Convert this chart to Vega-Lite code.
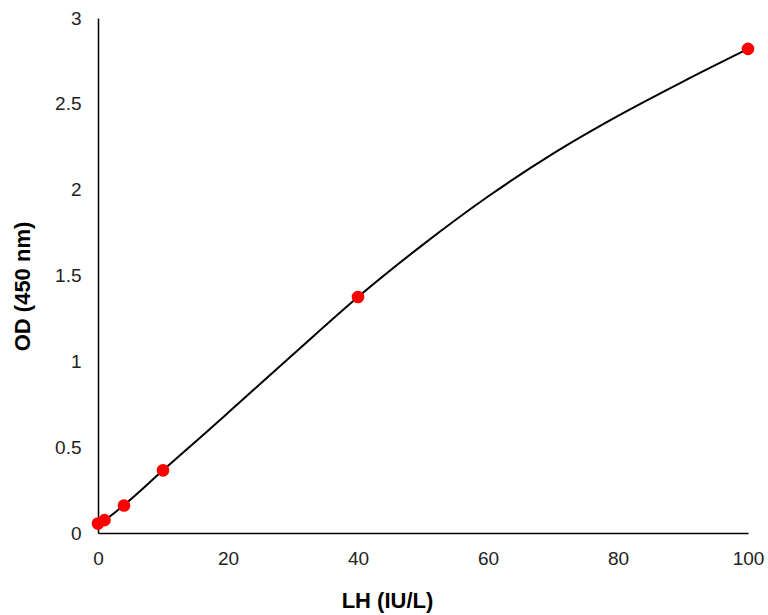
{
  "$schema": "https://vega.github.io/schema/vega-lite/v6.json",
  "width": 650,
  "height": 515,
  "autosize": {"type": "none"},
  "padding": {"left": 98, "top": 18, "right": 20, "bottom": 82},
  "background": "white",
  "config": {"view": {"stroke": null}, "font": "Liberation Sans"},
  "datasets": {
    "points": [
      {"lh": 0, "od": 0.055},
      {"lh": 1, "od": 0.075},
      {"lh": 4, "od": 0.16},
      {"lh": 10, "od": 0.365},
      {"lh": 40, "od": 1.375},
      {"lh": 100, "od": 2.82}
    ],
    "curve": [
      {"lh": 0, "od": 0.055},
      {"lh": 1, "od": 0.075},
      {"lh": 4, "od": 0.163},
      {"lh": 10, "od": 0.365},
      {"lh": 16, "od": 0.565},
      {"lh": 20, "od": 0.70},
      {"lh": 30, "od": 1.04},
      {"lh": 40, "od": 1.375},
      {"lh": 50, "od": 1.68},
      {"lh": 60, "od": 1.96},
      {"lh": 70, "od": 2.21},
      {"lh": 80, "od": 2.43},
      {"lh": 90, "od": 2.63},
      {"lh": 100, "od": 2.82}
    ]
  },
  "layer": [
    {
      "data": {"name": "curve"},
      "mark": {"type": "line", "color": "#000000", "strokeWidth": 2, "interpolate": "monotone"},
      "encoding": {
        "x": {"field": "lh", "type": "quantitative"},
        "y": {"field": "od", "type": "quantitative"}
      }
    },
    {
      "data": {"name": "points"},
      "mark": {"type": "circle", "color": "#ff0000", "opacity": 1, "size": 160},
      "encoding": {
        "x": {
          "field": "lh", "type": "quantitative",
          "scale": {"domain": [0, 100], "nice": false, "zero": false},
          "axis": {
            "title": "LH (IU/L)", "values": [0, 20, 40, 60, 80, 100], "format": "d",
            "labelFlush": false, "labelOverlap": false,
            "grid": false, "ticks": false, "domainColor": "#000000", "domainWidth": 1.5,
            "labelFont": "Liberation Sans", "labelFontSize": 19, "labelColor": "#222222", "labelPadding": 16,
            "titleFont": "Liberation Sans", "titleFontSize": 22, "titleFontWeight": "bold", "titleColor": "#000000",
            "titleBaseline": "middle", "titleX": 289, "titleY": 67
          }
        },
        "y": {
          "field": "od", "type": "quantitative",
          "scale": {"domain": [0, 3], "nice": false},
          "axis": {
            "title": "OD (450 nm)", "values": [0, 0.5, 1, 1.5, 2, 2.5, 3], "format": "~g",
            "labelFlush": false, "labelOverlap": false,
            "grid": false, "ticks": false, "domainColor": "#000000", "domainWidth": 1.5,
            "labelFont": "Liberation Sans", "labelFontSize": 19, "labelColor": "#222222", "labelPadding": 17,
            "titleFont": "Liberation Sans", "titleFontSize": 22, "titleFontWeight": "bold", "titleColor": "#000000",
            "titleBaseline": "middle", "titleX": -76, "titleY": 268
          }
        }
      }
    }
  ]
}
